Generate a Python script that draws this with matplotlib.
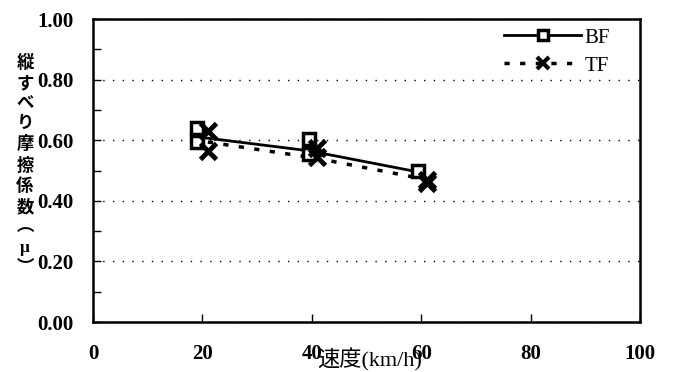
import matplotlib
matplotlib.use("Agg")
import matplotlib.pyplot as plt

plt.rcParams['font.family'] = ['Liberation Serif', 'Noto Sans CJK JP']

# measured points
bf_x = [19, 19, 39.5, 39.5, 59.5]
bf_y = [0.64, 0.595, 0.605, 0.555, 0.50]
tf_x = [21, 21, 41, 41, 61, 61]
tf_y = [0.63, 0.565, 0.575, 0.545, 0.47, 0.46]

# connecting lines
bf_line_x = [19.5, 39.5, 59.5]
bf_line_y = [0.61, 0.565, 0.495]
tf_line_x = [21, 41, 61]
tf_line_y = [0.594, 0.54, 0.47]

xticks = [0, 20, 40, 60, 80, 100]
yticks = [0.0, 0.2, 0.4, 0.6, 0.8, 1.0]
ylabel_chars = ['縦', 'す', 'べ', 'り', '摩', '擦', '係', '数', '︵', 'μ', '︶']

fig = plt.figure(figsize=(6.77, 3.72), dpi=100)
ax = fig.add_axes([0.1374, 0.1344, 0.8079, 0.8145])

ax.plot(bf_line_x, bf_line_y, color='black', lw=2, zorder=3)
ax.plot(tf_line_x, tf_line_y, color='black', lw=2.5, ls=(0, (1.5, 3)), zorder=3)
ax.plot(bf_x, bf_y, ls='none', marker='s', ms=9, mfc='white', mec='black', mew=2.5, zorder=4)
ax.plot(tf_x, tf_y, ls='none', marker='x', ms=11, mec='black', mew=3.5, zorder=5)

# legend handles
ax.plot([], [], color='black', lw=2, marker='s', ms=7, mfc='white', mec='black', mew=2.5, label='BF')
ax.plot([], [], color='black', lw=2.5, ls=(0, (1.5, 3)), marker='x', ms=9, mec='black', mew=3, label='TF')
handles, labels = ax.get_legend_handles_labels()
ax.legend(handles[-2:], labels[-2:], loc='upper right', bbox_to_anchor=(0.945, 0.97),
          frameon=False, fontsize=15, handlelength=3.7, handletextpad=0.15, labelspacing=0.4,
          borderaxespad=0.0, borderpad=0.0)

ax.set_xlim(0, 100)
ax.set_ylim(0, 1.0)
ax.set_xticks(xticks)
ax.set_yticks(yticks)
ax.set_yticks([0.1, 0.3, 0.5, 0.7, 0.9], minor=True)
ax.set_yticklabels([f'{v:.2f}' for v in yticks])
ax.tick_params(axis='both', direction='in', labelsize=15, length=6, width=1)
ax.tick_params(axis='y', which='minor', direction='in', length=6, width=1)
ax.tick_params(axis='x', pad=16)
ax.tick_params(axis='y', pad=14)
for t in ax.get_xticklabels() + ax.get_yticklabels():
    t.set_fontweight('bold')

ax.yaxis.grid(True, which='major', color='black', ls=(0, (1, 6)), lw=1)
for s in ax.spines.values():
    s.set_linewidth(1.8)

fig.text(0.546, 0.032, '速度(km/h)', ha='center', va='center', fontsize=16,
         family=['Liberation Serif', 'Noto Sans CJK JP'])
fig.text(0.037, 0.555, '\n'.join(ylabel_chars), ha='center', va='center', fontsize=12.5,
         family=['Liberation Serif', 'Noto Sans CJK JP'], fontweight='bold', linespacing=1.33)

fig.savefig('out.png', dpi=100)
